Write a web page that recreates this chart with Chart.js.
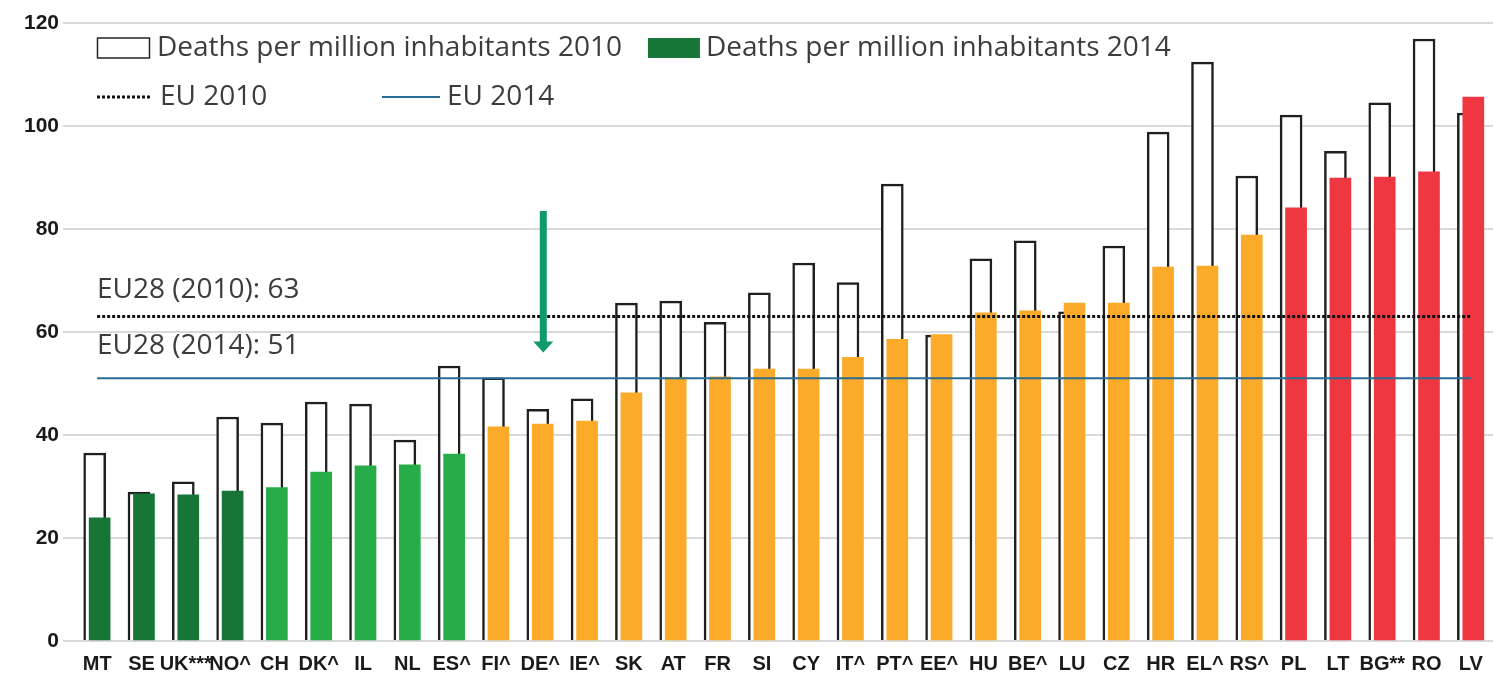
<!DOCTYPE html>
<html>
<head>
<meta charset="utf-8">
<title>Road deaths per million inhabitants, 2010 and 2014</title>
<script src="https://cdn.jsdelivr.net/npm/chart.js@4.4.1/dist/chart.umd.min.js"></script>
<style>
  html, body { margin: 0; padding: 0; background: #fff; }
  #wrap { position: relative; width: 1497px; height: 678px; }
</style>
</head>
<body>
<div id="wrap"><canvas id="chart"></canvas></div>
<script>
// data
const countries = ['MT', 'SE', 'UK***', 'NO^', 'CH', 'DK^', 'IL', 'NL', 'ES^', 'FI^', 'DE^', 'IE^',
  'SK', 'AT', 'FR', 'SI', 'CY', 'IT^', 'PT^', 'EE^', 'HU', 'BE^', 'LU', 'CZ', 'HR', 'EL^', 'RS^',
  'PL', 'LT', 'BG**', 'RO', 'LV'];
const deaths2010 = [36.5, 28.9, 30.9, 43.5, 42.3, 46.4, 46.0, 39.0, 53.4, 51.1, 45.0, 47.0,
  65.6, 66.0, 61.9, 67.6, 73.4, 69.6, 88.7, 59.4, 74.2, 77.7, 63.9, 76.7, 98.8, 112.4, 90.3,
  102.1, 95.1, 104.5, 116.9, 102.5];
const deaths2014 = [23.9, 28.6, 28.4, 29.1, 29.8, 32.8, 34.0, 34.2, 36.3, 41.6, 42.1, 42.7,
  48.2, 51.1, 51.3, 52.8, 52.8, 55.1, 58.6, 59.5, 63.7, 64.1, 65.6, 65.6, 72.6, 72.8, 78.8,
  84.1, 89.9, 90.1, 91.1, 105.6];
const ratingGroup = ['top', 'top', 'top', 'top', 'good', 'good', 'good', 'good', 'good',
  'middle', 'middle', 'middle', 'middle', 'middle', 'middle', 'middle', 'middle', 'middle',
  'middle', 'middle', 'middle', 'middle', 'middle', 'middle', 'middle', 'middle', 'middle',
  'bottom', 'bottom', 'bottom', 'bottom', 'bottom'];
const eu2010 = 63;
const eu2014 = 51;
const yTicks = [0, 20, 40, 60, 80, 100, 120];

const groupColors = { top: '#177538', good: '#26AC49', middle: '#FBAB29', bottom: '#EE3740' };
const TEXT_COLOR = '#3c3c3c';
const LABEL_FONT = '"Liberation Sans", Arial, sans-serif';
const NOTE_FONT = '28px "Open Sans", "Noto Sans", sans-serif';
const BAR_SHIFT = 0.056; // outline a little left of the slot centre, filled bar a little right

// legend, reference line captions and the arrow
const overlayPlugin = {
  id: 'overlay',
  afterDraw(chart) {
    const { ctx, chartArea: area, scales } = chart;
    const sets = chart.data.datasets;
    const left = area.left + 22;
    ctx.save();
    ctx.font = NOTE_FONT;
    ctx.textBaseline = 'middle';

    // legend row 1
    let rowY = area.top + 25;
    ctx.lineWidth = 1.5;
    ctx.strokeStyle = '#262626';
    ctx.strokeRect(left + 0.5, rowY - 10, 52, 20);
    ctx.fillStyle = TEXT_COLOR;
    ctx.fillText(sets[0].label, left + 60, rowY);
    const x2 = left + 60 + ctx.measureText(sets[0].label).width + 26;
    ctx.fillStyle = groupColors.top;
    ctx.fillRect(x2, rowY - 10, 52, 20);
    ctx.fillStyle = TEXT_COLOR;
    ctx.fillText(sets[1].label, x2 + 58, rowY);

    // legend row 2
    rowY = area.top + 74;
    ctx.strokeStyle = sets[2].borderColor;
    ctx.lineWidth = sets[2].borderWidth;
    ctx.setLineDash(sets[2].borderDash);
    ctx.beginPath(); ctx.moveTo(left, rowY); ctx.lineTo(left + 55, rowY); ctx.stroke();
    ctx.setLineDash([]);
    ctx.fillText(sets[2].label, left + 63, rowY);
    ctx.strokeStyle = sets[3].borderColor;
    ctx.lineWidth = sets[3].borderWidth;
    ctx.beginPath(); ctx.moveTo(left + 285, rowY); ctx.lineTo(left + 343, rowY); ctx.stroke();
    ctx.fillText(sets[3].label, left + 350, rowY);

    // captions above the EU lines
    ctx.fillText('EU28 (2010): ' + eu2010, left, scales.y.getPixelForValue(eu2010) - 27);
    ctx.fillText('EU28 (2014): ' + eu2014, left, scales.y.getPixelForValue(eu2014) - 32);

    // green arrow over DE
    const ax = scales.x.getPixelForValue(countries.indexOf('DE^')) + 3;
    const top = scales.y.getPixelForValue(83.5);
    const tip = scales.y.getPixelForValue(56);
    ctx.fillStyle = '#10996B';
    ctx.fillRect(ax - 3.5, top, 7, tip - top - 10);
    ctx.beginPath();
    ctx.moveTo(ax - 10, tip - 11);
    ctx.lineTo(ax + 10, tip - 11);
    ctx.lineTo(ax, tip);
    ctx.closePath();
    ctx.fill();
    ctx.restore();
  }
};

// hidden linear axes, shifted so the two bar series overlap off-centre
const shiftedAxis = (shift) => ({
  type: 'linear',
  display: false,
  offset: false,
  bounds: 'data',
  min: -0.5 - shift,
  max: countries.length - 0.5 - shift,
  ticks: { stepSize: 1 },
});

new Chart(document.getElementById('chart'), {
  type: 'bar',
  data: {
    labels: countries,
    datasets: [
      {
        label: 'Deaths per million inhabitants 2010',
        data: deaths2010.map((v, i) => ({ x: i, y: v })),
        xAxisID: 'xOld',
        grouped: false,
        backgroundColor: '#ffffff',
        borderColor: '#1f1f1f',
        borderWidth: 2.5,
        barThickness: 22,
        order: 2,
      },
      {
        label: 'Deaths per million inhabitants 2014',
        data: deaths2014.map((v, i) => ({ x: i, y: v })),
        xAxisID: 'xNew',
        grouped: false,
        backgroundColor: ratingGroup.map((g) => groupColors[g]),
        borderWidth: 0,
        barThickness: 21,
        order: 1,
      },
      {
        type: 'line',
        label: 'EU 2010',
        data: [{ x: countries[0], y: eu2010 }, { x: countries[countries.length - 1], y: eu2010 }],
        borderColor: '#111111',
        borderWidth: 3,
        borderDash: [3, 2],
        pointRadius: 0,
        order: 0,
      },
      {
        type: 'line',
        label: 'EU 2014',
        data: [{ x: countries[0], y: eu2014 }, { x: countries[countries.length - 1], y: eu2014 }],
        borderColor: '#2A6B93',
        borderWidth: 2,
        pointRadius: 0,
        order: 0,
      },
    ],
  },
  options: {
    responsive: true,
    maintainAspectRatio: false,
    animation: false,
    layout: { padding: { top: 23, right: 4, bottom: 0, left: 0 } },
    plugins: {
      legend: { display: false },
      tooltip: { enabled: false },
    },
    scales: {
      x: {
        type: 'category',
        offset: true,
        grid: { display: false, drawTicks: false },
        border: { display: false },
        afterFit: (scale) => { scale.height = 37; },
        ticks: {
          autoSkip: false,
          maxRotation: 0,
          minRotation: 0,
          padding: 11,
          color: '#1a1a1a',
          font: { family: LABEL_FONT, size: 20, weight: 'bold' },
        },
      },
      xOld: shiftedAxis(-BAR_SHIFT),
      xNew: shiftedAxis(BAR_SHIFT),
      y: {
        min: yTicks[0],
        max: yTicks[yTicks.length - 1],
        afterBuildTicks: (scale) => { scale.ticks = yTicks.map((v) => ({ value: v })); },
        afterFit: (scale) => { scale.width = 75; },
        grid: { color: '#D9D9D9', lineWidth: 2, tickLength: 12 },
        border: { display: false },
        ticks: {
          padding: 4,
          color: '#1a1a1a',
          font: { family: LABEL_FONT, size: 21, weight: 'bold' },
        },
      },
    },
  },
  plugins: [overlayPlugin],
});
</script>
</body>
</html>
